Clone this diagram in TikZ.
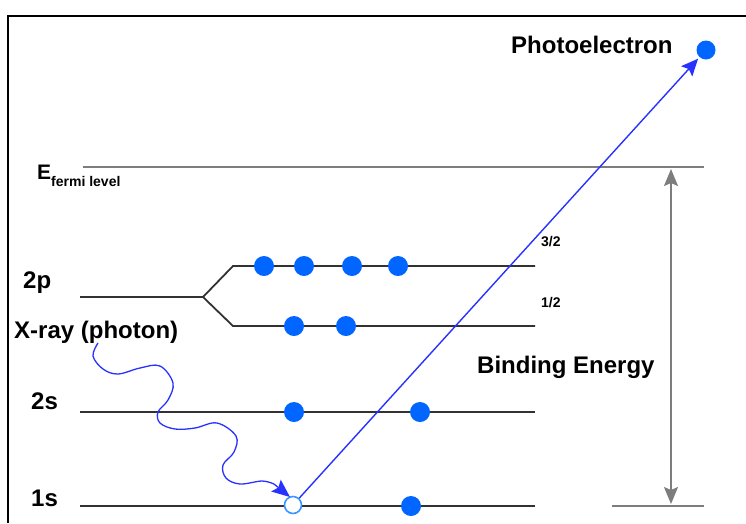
\documentclass[tikz,border=0pt]{standalone}
\usepackage{fontspec}
\setmainfont{Liberation Sans}
\usetikzlibrary{arrows.meta}
\definecolor{eblue}{RGB}{0,102,255}
\definecolor{holeblue}{RGB}{60,150,255}
\definecolor{pathblue}{RGB}{40,50,255}
\definecolor{levelgray}{RGB}{50,50,50}
\definecolor{refgray}{RGB}{125,125,125}
\tikzset{
  electron/.style={circle,fill=eblue,draw=none,minimum size=20pt,inner sep=0pt},
  hole/.style={circle,fill=white,draw=holeblue,line width=1.6pt,minimum size=17pt,inner sep=0pt},
  level/.style={draw=levelgray,line width=1.8pt},
  reflevel/.style={draw=refgray,line width=1.5pt},
  biglabel/.style={font=\bfseries\fontsize{24}{27}\selectfont,inner sep=0pt,anchor=base west},
  smalllabel/.style={font=\bfseries\fontsize{14}{16}\selectfont,inner sep=0pt,anchor=base west},
  beam/.style={draw=pathblue,line width=1.4pt}
}
\begin{document}
% page units: 1pt per pixel, origin at the top-left corner, y measured downwards as negative values
\begin{tikzpicture}[x=1pt,y=1pt]
\useasboundingbox (0,-523) rectangle (746,0);
% outer frame (right and bottom edges lie outside the page)
\draw[line width=2pt,black] (8,-523) -- (8,-16) -- (746,-16);

% Fermi level and the reference line under the 1s level
\draw[reflevel] (83,-167) -- (704,-167);
\draw[reflevel] (612,-506) -- (704,-506);

% energy levels
\draw[level] (80,-297) -- (203,-297);
\draw[level] (203,-297) -- (233,-266) -- (535,-266);
\draw[level] (203,-297) -- (233,-326) -- (535,-326);
\draw[level] (80,-412) -- (535,-412);
\draw[level] (80,-506) -- (535,-506);

% labels
\node[biglabel] (lE) at (37,-179) {\fontsize{21}{24}\selectfont E};
\node[smalllabel] (lfermi) at (51,-186) {fermi level};
\node[biglabel] (l2p) at (23,-288) {2p};
\node[biglabel] (l2s) at (31,-409) {2s};
\node[biglabel] (l1s) at (31,-506) {1s};
\node[biglabel] (lxray) at (14,-338) {X-ray (photon)};
\node[biglabel] (lphoto) at (511,-53) {Photoelectron};
\node[biglabel] (lbind) at (477,-373) {Binding Energy};
\node[smalllabel] (l32) at (541,-246) {3/2};
\node[smalllabel] (l12) at (541,-307) {1/2};

% electrons on 2p3/2
\node[electron] (p1) at (264,-266) {};
\node[electron] (p2) at (304,-266) {};
\node[electron] (p3) at (352,-266) {};
\node[electron] (p4) at (398,-266) {};
% electrons on 2p1/2
\node[electron] (p5) at (294,-326) {};
\node[electron] (p6) at (346,-326) {};
% electrons on 2s
\node[electron] (s1) at (294,-412) {};
\node[electron] (s2) at (420,-412) {};
% 1s: core hole and remaining electron
\node[hole] (h) at (293,-505) {};
\node[electron] (s3) at (411,-506) {};
% emitted photoelectron
\node[electron,minimum size=19pt] (pe) at (706,-50) {};

% photoelectron trajectory
\draw[beam,-{Stealth[length=17pt,width=15pt,inset=3pt]},shorten >=2pt] (h) -- (pe);

% incoming X-ray photon
\coordinate (xs) at (98,-343);
\coordinate (xe) at (290,-497);
\draw[beam,line width=1.3pt] plot[smooth,tension=0.6] coordinates {
  (xs) (93,-356) (103,-369) (118,-374) (140,-368) (160,-366) (173,-383) (168,-400)
  (158,-412) (160,-423) (175,-429) (195,-428) (217,-423) (236,-436) (234,-452)
  (223,-465) (226,-478) (240,-484) (262,-481) (274,-484)};
\draw[beam,line width=1.3pt,-{Stealth[length=18pt,width=15pt,inset=3pt]}] (274,-484) -- (xe);

% binding energy span
\coordinate (bt) at (671,-169);
\coordinate (bb) at (671,-504);
\draw[draw=refgray,line width=1.5pt,{Stealth[length=17pt,width=14pt,inset=3pt]}-{Stealth[length=17pt,width=14pt,inset=3pt]}] (bt) -- (bb);
\end{tikzpicture}
\end{document}
